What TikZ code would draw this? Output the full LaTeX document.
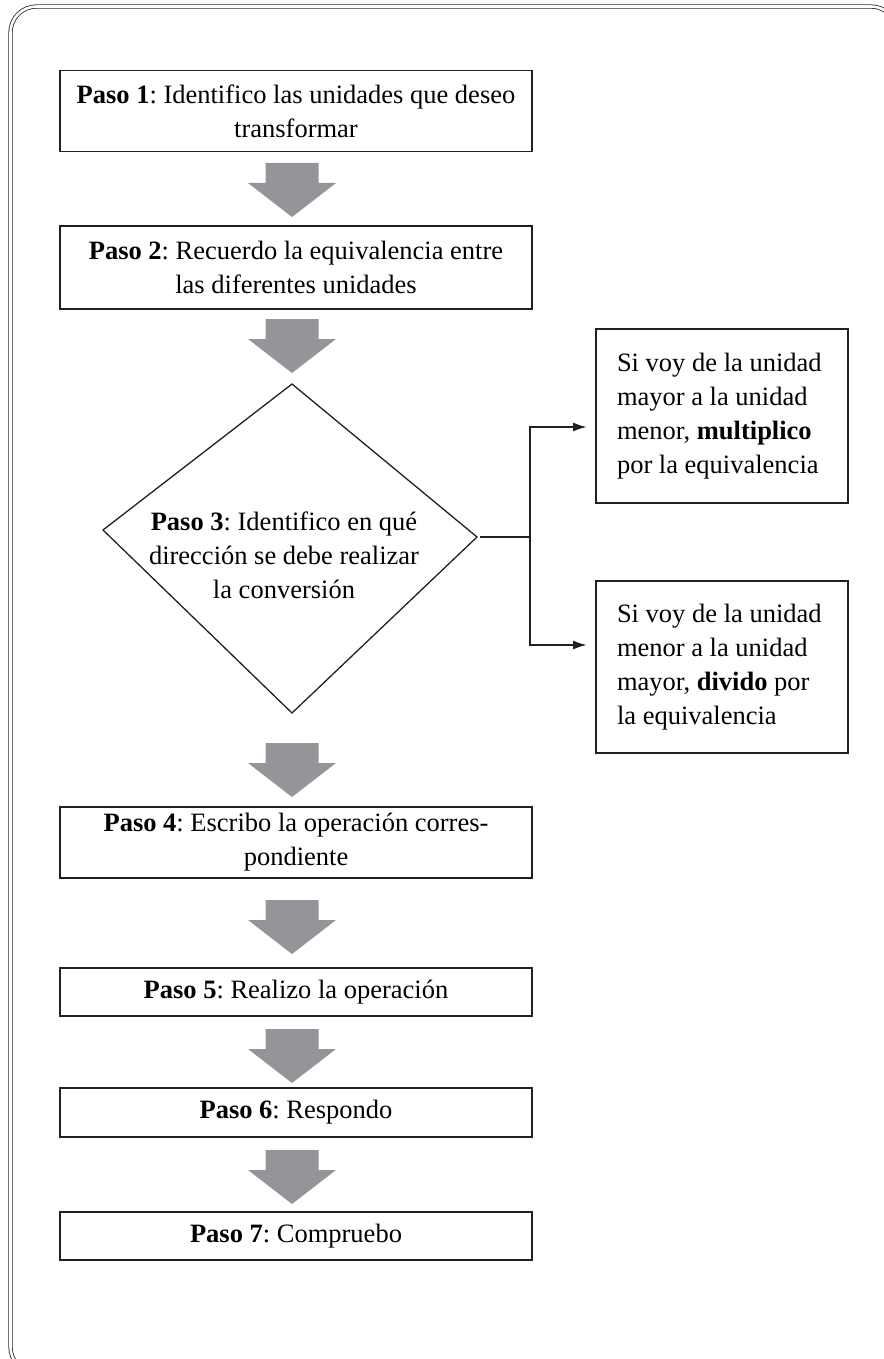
\documentclass[tikz,border=0pt]{standalone}
\usepackage{fontspec}
\setmainfont{Liberation Serif}
\usetikzlibrary{arrows.meta}
\definecolor{arrowgray}{RGB}{147,149,152}
\definecolor{ink}{RGB}{35,31,32}
\frenchspacing

\begin{document}
\begin{tikzpicture}[x=1pt,y=-1pt,
    font=\fontsize{26.5}{34}\selectfont,
    paso/.style={draw=ink,line width=1.8pt,minimum width=472pt,text width=464pt,align=flush center,inner sep=0pt},
    side/.style={draw=ink,line width=1.8pt,minimum width=252pt,text width=210pt,inner xsep=21pt,align=flush left},
    conn/.style={draw=ink,line width=2.2pt}]
    \useasboundingbox (0,0) rectangle (883,1359);
    % outer frame
    \draw[draw=black!85,double,double distance=2.6pt,line width=0.8pt,rounded corners=26pt]
        (10.5,6.5) rectangle (897,1373);

    % pasos
    \node[paso,minimum height=81pt](1) at (296,111) {\textbf{Paso 1}: Identifico las unidades que deseo\\transformar};
    \node[paso,minimum height=83pt](2) at (296,267.5) {\textbf{Paso 2}: Recuerdo la equivalencia entre\\las diferentes unidades};
    \node[align=center,inner sep=0pt](3) at (284,555) {\textbf{Paso 3}: Identifico en qué\\dirección se debe realizar\\la conversión};
    \node[paso,minimum height=71pt](4) at (296,842.5) {\textbf{Paso 4}: Escribo la operación corres-\\pondiente};
    \node[paso,minimum height=48pt](5) at (296,992) {\textbf{Paso 5}: Realizo la operación};
    \node[paso,minimum height=49pt](6) at (296,1112.5) {\textbf{Paso 6}: Respondo};
    \node[paso,minimum height=48pt](7) at (296,1236) {\textbf{Paso 7}: Compruebo};

    % diamond round paso 3
    \coordinate (3t) at (292,384);
    \coordinate (3l) at (103,530);
    \coordinate (3r) at (477,537);
    \coordinate (3b) at (292,713);
    \draw[ink,line width=1.3pt] (3t) -- (3r) -- (3b) -- (3l) -- cycle;

    % cases
    \node[side,minimum height=174pt](r1) at (722,416) {Si voy de la unidad\\mayor a la unidad\\menor, \textbf{multiplico}\\por la equivalencia};
    \node[side,minimum height=172pt](r2) at (722,667) {Si voy de la unidad\\menor a la unidad\\mayor, \textbf{divido} por\\la equivalencia};

    \draw[conn] (3r) ++(3,0) -- (530,537);
    \draw[conn,-{Latex[length=14pt,width=9pt]},shorten >=8pt] (530,537) |- ([yshift=-11pt]r1.west);
    \draw[conn,-{Latex[length=14pt,width=9pt]},shorten >=8pt] (530,537) |- ([yshift=22pt]r2.west);

    % block arrows
    \foreach \ya in {163,319,743,900,1029,1150}
        \fill[arrowgray] (265.5,\ya) -- (318.5,\ya) -- (318.5,\ya+20) -- (336,\ya+20)
            -- (292,\ya+54) -- (248,\ya+20) -- (265.5,\ya+20) -- cycle;
\end{tikzpicture}
\end{document}
